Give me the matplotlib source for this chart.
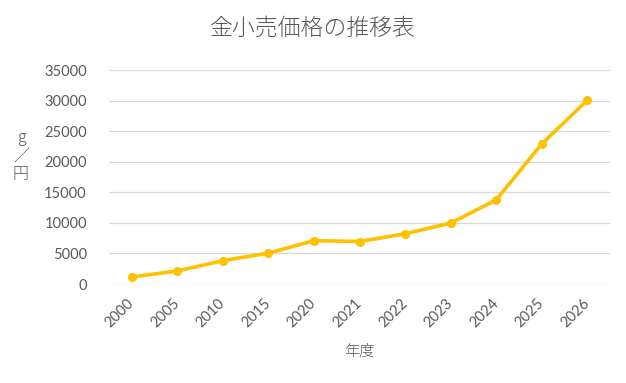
import matplotlib.pyplot as plt

# 金小売価格の推移 (円/g)
years = ["2000", "2005", "2010", "2015", "2020", "2021", "2022", "2023", "2024", "2025", "2026"]
prices = [1150, 2130, 3820, 5050, 7100, 6940, 8220, 9950, 13750, 22900, 30050]
y_ticks = [0, 5000, 10000, 15000, 20000, 25000, 30000, 35000]

jp = ["Noto Sans CJK JP", "DejaVu Sans"]
grey = "#595959"

fig = plt.figure(figsize=(6.26, 3.83), dpi=100)
ax = fig.add_axes([109 / 626, 1 - 284 / 383, 501 / 626, 214 / 383])

x = list(range(len(years)))
ax.plot(x, prices, color="#FFC000", linewidth=2.6, marker="o", markersize=5.5,
        solid_capstyle="round", zorder=3)

ax.set_xlim(-0.5, len(years) - 0.5)
ax.set_ylim(0, 35000)
ax.set_yticks(y_ticks)
ax.set_yticklabels([str(v) for v in y_ticks], family="Lato", fontsize=10.5, color=grey)
ax.set_xticks(x)
ax.set_xticklabels(years, family="Lato", fontsize=10.5, color=grey,
                   rotation=45, ha="right", va="center", rotation_mode="anchor")
ax.tick_params(axis="y", length=0, pad=16)
ax.tick_params(axis="x", length=0, pad=12)

ax.grid(axis="y", color="#D9D9D9", linewidth=0.9)
ax.set_axisbelow(True)
for s in ax.spines.values():
    s.set_visible(False)

fig.text(0.5, 1 - 28 / 383, "金小売価格の推移表", family=jp, fontsize=16.5, color=grey,
         weight="light", ha="center", va="center")
fig.text(359 / 626, 1 - 352 / 383, "年度", family=jp, fontsize=11, color=grey,
         weight="light", ha="center", va="center")
fig.text(21 / 626, 1 - 156 / 383, "g\n／\n円", family=jp, fontsize=11.5, color=grey,
         weight="light", ha="center", va="center", linespacing=1.15)

fig.savefig("out.png", dpi=100)
